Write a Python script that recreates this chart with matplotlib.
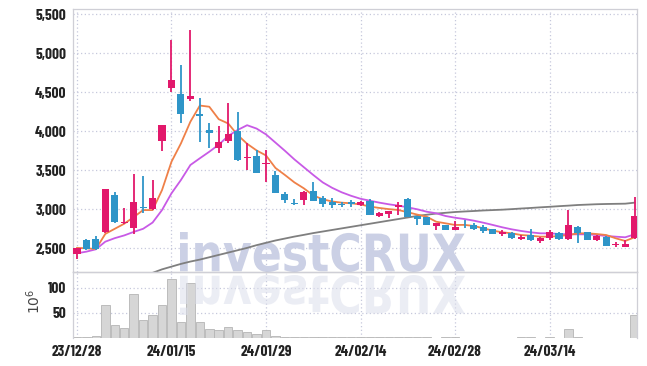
import numpy as np
import matplotlib
matplotlib.use('Agg')
import matplotlib.pyplot as plt
from matplotlib.textpath import TextPath
from matplotlib.patches import PathPatch
from matplotlib.font_manager import FontProperties
from matplotlib.transforms import Affine2D, IdentityTransform

# trading days shown on the chart
dates = ['23/12/28',
         '24/01/02', '24/01/03', '24/01/04', '24/01/05', '24/01/08', '24/01/09', '24/01/10', '24/01/11', '24/01/12', '24/01/15',
         '24/01/16', '24/01/17', '24/01/18', '24/01/19', '24/01/22', '24/01/23', '24/01/24', '24/01/25', '24/01/26', '24/01/29',
         '24/01/30', '24/01/31', '24/02/01', '24/02/02', '24/02/05', '24/02/06', '24/02/07', '24/02/08', '24/02/13', '24/02/14',
         '24/02/15', '24/02/16', '24/02/19', '24/02/20', '24/02/21', '24/02/22', '24/02/23', '24/02/26', '24/02/27', '24/02/28',
         '24/02/29', '24/03/04', '24/03/05', '24/03/06', '24/03/07', '24/03/08', '24/03/11', '24/03/12', '24/03/13', '24/03/14',
         '24/03/15', '24/03/18', '24/03/19', '24/03/20', '24/03/21', '24/03/22', '24/03/25', '24/03/26', '24/03/27']

opens = [2425, 2605, 2615, 2713, 3183, 2820, 2756, 3033, 3004, 3880,
         4560, 4478, 4414, 4222, 4017, 3790, 3880, 4004, 3660, 3683,
         3575, 3440, 3196, 3082, 3119, 3238, 3149, 3097, 3072, 3097,
         3060, 3110, 2920, 2938, 3033, 3132, 2910, 2900, 2788, 2799,
         2740, 2790, 2799, 2777, 2743, 2679, 2692, 2623, 2670, 2594,
         2628, 2692, 2615, 2768, 2705, 2606, 2649, 2538, 2521, 2628]
highs = [2510, 2625, 2660, 3265, 3218, 3013, 3452, 3425, 3375, 4085,
         5170, 4850, 5300, 4430, 4105, 4072, 4367, 4244, 3854, 3760,
         3760, 3485, 3226, 3136, 3230, 3354, 3170, 3140, 3090, 3120,
         3110, 3128, 2965, 2975, 3097, 3140, 2915, 2905, 2830, 2805,
         2845, 2860, 2830, 2800, 2750, 2730, 2710, 2670, 2743, 2645,
         2730, 2710, 2990, 2780, 2715, 2670, 2655, 2585, 2606, 3154]
lows = [2360, 2480, 2478, 2700, 2830, 2815, 2683, 2950, 2995, 3745,
        4500, 4103, 4385, 3860, 3780, 3726, 3846, 3615, 3504, 3462,
        3354, 3205, 3085, 3055, 3055, 3100, 3025, 3013, 3025, 3030,
        3045, 2925, 2905, 2885, 2927, 2895, 2800, 2795, 2740, 2730,
        2730, 2760, 2735, 2692, 2678, 2653, 2625, 2600, 2595, 2564,
        2600, 2600, 2610, 2572, 2600, 2595, 2530, 2513, 2515, 2620]
closes = [2505, 2488, 2495, 3260, 2841, 2841, 3090, 3013, 3148, 4080,
          4657, 4226, 4449, 4190, 3982, 3867, 3965, 3632, 3672, 3469,
          3588, 3213, 3119, 3072, 3226, 3110, 3068, 3059, 3050, 3068,
          3097, 2931, 2958, 2972, 3055, 2895, 2880, 2799, 2820, 2735,
          2777, 2780, 2747, 2722, 2683, 2705, 2636, 2649, 2602, 2636,
          2713, 2615, 2799, 2700, 2606, 2658, 2533, 2546, 2555, 2914]

# moving averages
ma_short = [2505, 2500, 2490, 2685, 2750, 2815, 2900, 2990, 2990, 3247,
            3610, 3845, 4123, 4330, 4315, 4155, 4100, 3952, 3840, 3755,
            3690, 3530, 3440, 3345, 3269, 3178, 3128, 3100, 3085, 3077,
            3062, 3035, 3017, 3002, 2991, 2962, 2932, 2905, 2841, 2820,
            2799, 2800, 2786, 2756, 2726, 2705, 2692, 2670, 2662, 2649,
            2649, 2658, 2670, 2692, 2692, 2683, 2670, 2628, 2594, 2641]
ma_mid = [2436, 2457, 2487, 2585, 2630, 2665, 2710, 2750, 2830, 2991,
          3205, 3376, 3568, 3654, 3738, 3828, 3940, 4017, 4078, 4035,
          3960, 3855, 3750, 3640, 3540, 3440, 3345, 3275, 3218, 3173,
          3135, 3110, 3085, 3064, 3047, 3025, 3000, 2969, 2949, 2914,
          2892, 2875, 2854, 2828, 2799, 2769, 2743, 2722, 2705, 2692,
          2692, 2683, 2679, 2679, 2679, 2670, 2658, 2649, 2641, 2679]
ma_long = [np.nan] * 8 + [2185, 2230,
           2265, 2300, 2330, 2355, 2385, 2415, 2445, 2475, 2505, 2540,
           2570, 2600, 2625, 2650, 2672, 2695, 2715, 2735, 2755, 2775,
           2795, 2815, 2835, 2855, 2875, 2895, 2915, 2930, 2945, 2955,
           2965, 2972, 2978, 2985, 2990, 2995, 3002, 3010, 3017, 3025,
           3032, 3040, 3047, 3055, 3060, 3065, 3068, 3070, 3072, 3085]

# volume in millions
volume = [1, 2, 4, 66, 26, 19, 87, 36, 46, 65,
          118, 32, 110, 32, 17, 15, 22, 15, 11, 7,
          15, 4, 2, 1.5, 1.5, 1.5, 1.5, 1, 1, 1,
          2, 2.5, 2, 1, 2, 2.5, 1, 1, 0.8, 1,
          1.5, 0.8, 0.8, 0.8, 0.8, 0.8, 0.8, 1.5, 1, 0.8,
          1.5, 0.8, 17, 2, 0.8, 0.8, 0.8, 0.8, 0.8, 46]

price_ticks = [2500, 3000, 3500, 4000, 4500, 5000, 5500]
vol_ticks = [50, 100]
date_tick_idx = [0, 10, 20, 30, 40, 50]

UP = '#e2186b'
DOWN = '#2f95c8'
GRID = '#c6c8dc'
tick_font = dict(family=['Barlow Condensed', 'DejaVu Sans'], weight='bold', size=11)

W, H = 647, 366
fig = plt.figure(figsize=(W / 100, H / 100), dpi=100)
fig.patch.set_facecolor('white')

left, right = 73 / W, 637 / W
ax = fig.add_axes([left, 1 - 272 / H, right - left, (272 - 9) / H])
axv = fig.add_axes([left, 1 - 338 / H, right - left, (338 - 272) / H], sharex=ax)

x = np.arange(len(dates))
o = np.array(opens, float)
h = np.array(highs, float)
l = np.array(lows, float)
c = np.array(closes, float)
colors = [UP if cc >= oo else DOWN for oo, cc in zip(o, c)]

# candles
ax.vlines(x, l, h, colors=colors, linewidth=1.3, zorder=3)
body_h = np.maximum(np.abs(c - o), 12)
ax.bar(x, body_h, bottom=np.minimum(o, c), width=0.75, color=colors, linewidth=0, zorder=4)

ax.plot(x, ma_long, color='#7f7f7f', linewidth=1.3, zorder=2)
ax.plot(x, ma_mid, color='#c85ae6', linewidth=1.3, zorder=2)
ax.plot(x, ma_short, color='#ef8048', linewidth=1.3, zorder=2)

ax.set_ylim(2196, 5568)
ax.set_xlim(-0.42, 59.25)
ax.set_yticks(price_ticks)
ax.set_yticklabels(['{:,}'.format(v) for v in price_ticks])

# volume
axv.bar(x, volume, width=0.9, color='#d6d6d6', edgecolor='#b5b5b5', linewidth=0.6, zorder=2)
axv.set_ylim(0, 131)
axv.set_yticks(vol_ticks)
axv.set_yticklabels([str(v) for v in vol_ticks])
axv.set_xticks(date_tick_idx)
axv.set_xticklabels([dates[i] for i in date_tick_idx])
axv.set_ylabel(r'$10^6$', fontsize=10, color='#444444')
axv.yaxis.set_label_coords(-0.054, 0.55)

for a in (ax, axv):
    a.set_facecolor('none')
    a.grid(True, linestyle=(0, (1, 2)), color=GRID, linewidth=0.9, zorder=0)
    a.set_axisbelow(True)
    a.tick_params(length=0, colors='#222222', pad=5)
    for lab in a.get_yticklabels() + a.get_xticklabels():
        lab.set_fontproperties(FontProperties(**tick_font))
    for s in a.spines.values():
        s.set_color('#cfcfd6')
        s.set_linewidth(0.9)
ax.spines['bottom'].set_color('#b8b8b8')
ax.tick_params(axis='x', labelbottom=False)
axv.spines['bottom'].set_visible(False)

# watermark with reflection
fp = FontProperties(family='DejaVu Sans', weight='bold')
tp = TextPath((0, 0), 'investCRUX', size=1, prop=fp)
bb = tp.get_extents()
sx = (465 - 180) / bb.width
sy = 40 / bb.height
base = H - 272
tr_main = Affine2D().translate(-bb.x0, -bb.y0).scale(sx, sy).translate(180, base)
tr_ref = Affine2D().translate(-bb.x0, -bb.y0).scale(sx, -sy).translate(180, base - 3)
wm = PathPatch(tr_main.transform_path(tp), facecolor='#cbd0e5', edgecolor='none',
               transform=IdentityTransform(), clip_on=False, zorder=1.5)
ax.add_artist(wm)
ref = PathPatch(tr_ref.transform_path(tp), facecolor='#dcdfec', edgecolor='none', alpha=0.55,
                transform=IdentityTransform(), clip_on=False, zorder=3)
axv.add_artist(ref)

fig.savefig('out.png', dpi=100, facecolor='white')
